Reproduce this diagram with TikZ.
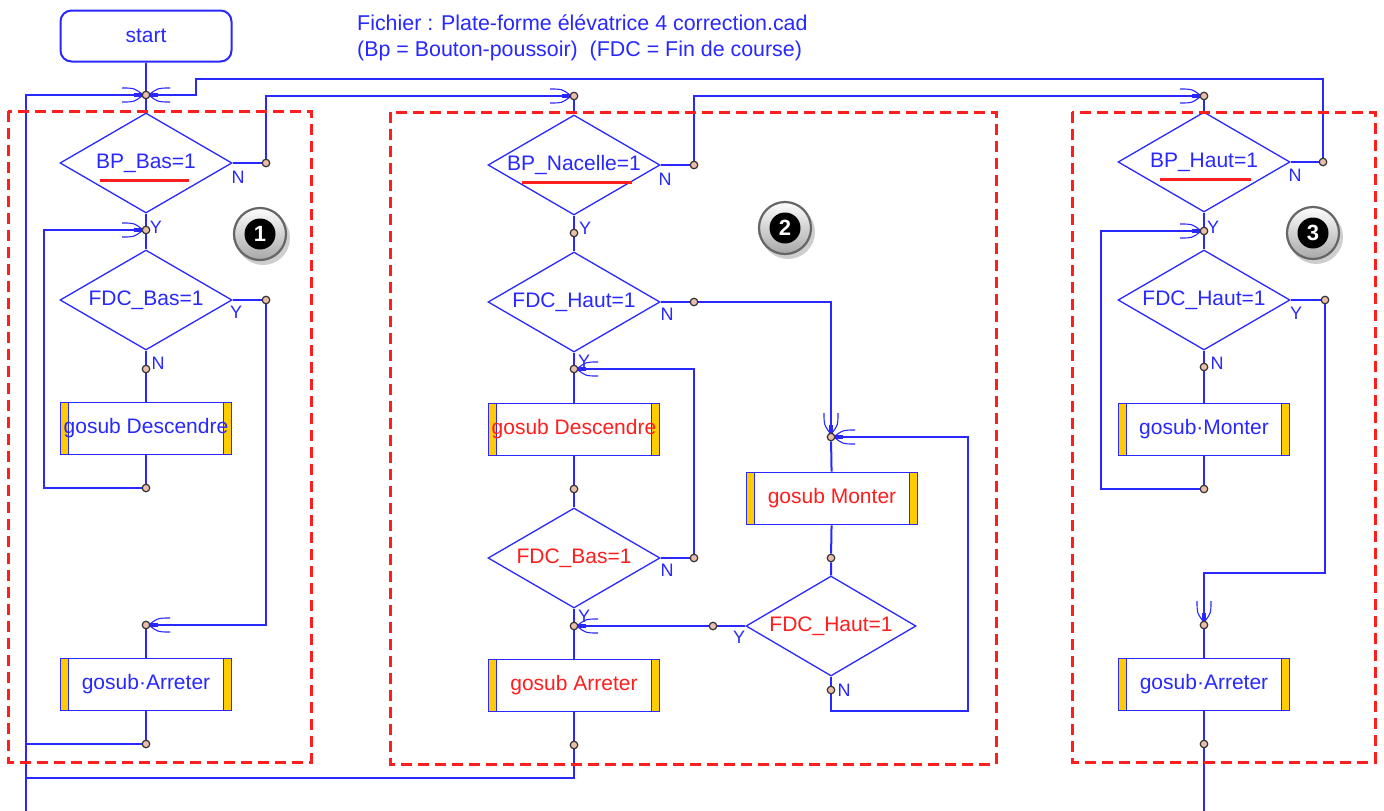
\documentclass[tikz,border=0pt]{standalone}
\usepackage{fontspec}
\setmainfont{Liberation Sans}
\usetikzlibrary{shapes.geometric,calc}
\definecolor{fblue}{RGB}{40,40,255}
\definecolor{fred}{RGB}{255,30,30}
\definecolor{fyellow}{RGB}{255,204,0}
\definecolor{dotfill}{RGB}{235,190,170}
\pgfdeclarelayer{bg}
\pgfsetlayers{bg,main}
\newcommand\mybadge[3]{%
  \fill[black!35,opacity=.55] (#1+3,#2+4) circle (27pt);
  \shade[top color=white,bottom color=black!35] (#1,#2) circle (27pt);
  \draw[black!60,line width=2.2pt] (#1,#2) circle (26pt);
  \node[circle,fill=black,text=white,minimum size=31pt,inner sep=0pt,
        font=\fontsize{22}{26}\selectfont\bfseries] at (#1,#2) {#3};
}
\tikzset{
  fork/.pic={
    \fill[fblue] (-12,-2.2) rectangle (-3,2.2);
    \draw[fblue,line width=1.1pt] (-3,0) -- (-24,0);
    \draw[fblue,line width=1.1pt] (-4,-1) .. controls (-12,-7) .. (-24,-7);
    \draw[fblue,line width=1.1pt] (-4,1) .. controls (-12,7) .. (-24,7);
  }
}
\begin{document}
\begin{tikzpicture}[x=1pt,y=-1pt,font=\fontsize{21}{25}\selectfont,
  conn/.style={draw=fblue,line width=2pt},
  jdot/.style={circle,draw=black!80,fill=dotfill,line width=1.2pt,minimum size=7.5pt,inner sep=0pt},
  dia/.style={shape=diamond,shape aspect=1.72,draw=fblue,line width=1.3pt,minimum width=172pt,minimum height=100pt,inner sep=0pt,text=fblue},
  proc/.style={draw=fblue,line width=1.6pt,fill=white,minimum width=171pt,minimum height=52pt,inner sep=0pt,text=fblue,
    path picture={
      \fill[fyellow] (path picture bounding box.north west) rectangle ([xshift=8pt]path picture bounding box.south west);
      \fill[fyellow] (path picture bounding box.north east) rectangle ([xshift=-8pt]path picture bounding box.south east);
      \draw[fblue,line width=1.6pt] ([xshift=8pt]path picture bounding box.north west) -- ([xshift=8pt]path picture bounding box.south west);
      \draw[fblue,line width=1.6pt] ([xshift=-8pt]path picture bounding box.north east) -- ([xshift=-8pt]path picture bounding box.south east);
    }},
  startbox/.style={draw=fblue,line width=2pt,rounded corners=11pt,minimum width=171pt,minimum height=51pt,inner sep=0pt,text=fblue},
  lbl/.style={text=fblue,font=\fontsize{18}{22}\selectfont,inner sep=0pt},
  zone/.style={draw=fred,line width=3pt,dash pattern=on 11pt off 6pt},
  uline/.style={draw=fred,line width=3pt}
]
\useasboundingbox (0,0) rectangle (1384,811);

% ---------- section 1 ----------
\node[startbox] (start) at (146,36) {start};
\node[jdot] (j0) at (146,95) {};
\node[dia] (d1) at (146,163) {BP\_Bas=1};
\node[jdot] (n1) at (266,163) {};
\node[jdot] (j1) at (146,230) {};
\node[dia] (d2) at (146,300) {FDC\_Bas=1};
\node[jdot] (y2) at (266,300) {};
\node[jdot] (n2) at (146,369) {};
\node[proc] (p1) at (146,428.5) {gosub Descendre};
\node[jdot] (e1) at (146,488) {};
\node[jdot] (j2) at (146,625) {};
\node[proc] (p2) at (146,684.5) {gosub·Arreter};
\node[jdot] (e2) at (146,744) {};

% ---------- section 2 ----------
\node[jdot] (j3) at (574,96) {};
\node[dia] (d3) at (574,165) {BP\_Nacelle=1};
\node[jdot] (n3) at (694,165) {};
\node[jdot] (y3) at (574,233) {};
\node[dia] (d4) at (574,302) {FDC\_Haut=1};
\node[jdot] (n4) at (694,302) {};
\node[jdot] (j4) at (574,369) {};
\node[proc,text=fred] (p3) at (574,429.5) {gosub Descendre};
\node[jdot] (e3) at (574,489) {};
\node[dia,text=fred] (d5) at (574,558) {FDC\_Bas=1};
\node[jdot] (n5) at (694,558) {};
\node[jdot] (j5) at (574,626) {};
\node[proc,text=fred] (p4) at (574,685.5) {gosub Arreter};
\node[jdot] (e4) at (574,745) {};
\node[jdot] (j6) at (831,437) {};
\node[proc,text=fred] (p5) at (832,498.5) {gosub Monter};
\node[jdot] (e5) at (831,558) {};
\node[dia,text=fred,minimum width=170pt] (d6) at (831,626) {FDC\_Haut=1};
\node[jdot] (y6) at (713,626) {};
\node[jdot] (n6) at (831,690) {};

% ---------- section 3 ----------
\node[jdot] (j7) at (1204,96) {};
\node[dia] (d7) at (1204,162) {BP\_Haut=1};
\node[jdot] (n7) at (1323,162) {};
\node[jdot] (j8) at (1204,231) {};
\node[dia] (d8) at (1204,300) {FDC\_Haut=1};
\node[jdot] (y8) at (1325,300) {};
\node[jdot] (n8) at (1204,367) {};
\node[proc] (p6) at (1204,429.5) {gosub·Monter};
\node[jdot] (e6) at (1204,489) {};
\node[jdot] (j9) at (1204,625) {};
\node[proc] (p7) at (1204,684.5) {gosub·Arreter};
\node[jdot] (e7) at (1204,744) {};

\coordinate (lb) at (26,811);
\coordinate (rb) at (1204,811);

% title
\node[anchor=west,text=fblue,inner sep=0pt,font=\fontsize{21.4}{25}\selectfont] (t1) at (357,23) {Fichier : Plate-forme élévatrice 4 correction.cad};
\node[anchor=west,text=fblue,inner sep=0pt,font=\fontsize{21.4}{25}\selectfont] (t2) at (357,51) {(Bp = Bouton-poussoir)\ \ (FDC = Fin de course)};

% labels
\node[lbl] at (238,177) {N};
\node[lbl] at (156,227) {Y};
\node[lbl] at (236,312) {Y};
\node[lbl] at (158,363) {N};
\node[lbl] at (665,179) {N};
\node[lbl] at (585,228) {Y};
\node[lbl] at (667,314) {N};
\node[lbl] at (584,361) {Y};
\node[lbl] at (667,570) {N};
\node[lbl] at (584,616) {Y};
\node[lbl] at (739,637) {Y};
\node[lbl] at (844,690) {N};
\node[lbl] at (1295,175) {N};
\node[lbl] at (1213,227) {Y};
\node[lbl] at (1296,313) {Y};
\node[lbl] at (1217,363) {N};

% underlines
\draw[uline] (100,180) -- (189,180);
\draw[uline] (522,182) -- (632,182);
\draw[uline] (1160,179) -- (1251,179);

% badges
\mybadge{260}{234}{1}
\mybadge{785}{228}{2}
\mybadge{1313}{233}{3}

% zones
\draw[zone] (8,111) rectangle (311,762);
\draw[zone] (390,112) rectangle (996,764);
\draw[zone] (1072,112) rectangle (1375,762);

\begin{pgfonlayer}{bg}
\fill[white] (0,0) rectangle (1384,811);
% section 1
\draw[conn] (start) -- (j0) -- (d1.north);
\draw[conn] (d1.east) -- (n1) |- (j3);
\draw[conn] (d1.south) -- (j1) -- (d2.north);
\draw[conn] (d2.east) -- (y2) |- (j2);
\draw[conn] (d2.south) -- (n2) -- (p1);
\draw[conn] (p1) -- (e1) -- (44,488) |- (j1);
\draw[conn] (j2) -- (p2);
\draw[conn] (p2) -- (e2) -- (e2 -| lb);
\draw[conn] (lb) |- (j0);
\draw[conn] (n7) -- (1323,79) -- (196,79) -- (196,95) -- (j0);
\draw[conn] (e4) -- (574,778) -- (26,778);
% section 2
\draw[conn] (j3) -- (d3.north);
\draw[conn] (d3.east) -- (n3) |- (j7);
\draw[conn] (d3.south) -- (y3) -- (d4.north);
\draw[conn] (d4.east) -- (n4) -| (j6);
\draw[conn] (d4.south) -- (j4) -- (p3);
\draw[conn] (p3) -- (e3) -- (d5.north);
\draw[conn] (d5.east) -- (n5) |- (j4);
\draw[conn] (d5.south) -- (j5) -- (p4);
\draw[conn] (p4) -- (e4);
\draw[conn] (j6) -- (p5);
\draw[conn] (p5) -- (e5) -- (d6.north);
\draw[conn] (d6.west) -- (y6) -- (j5);
\draw[conn] (d6.south) -- (n6) -- (831,711) -- (968,711) |- (j6);
% section 3
\draw[conn] (j7) -- (d7.north);
\draw[conn] (d7.east) -- (n7);
\draw[conn] (d7.south) -- (j8) -- (d8.north);
\draw[conn] (d8.east) -- (y8) -- (1325,573) -| (j9);
\draw[conn] (d8.south) -- (n8) -- (p6);
\draw[conn] (p6) -- (e6) -- (1101,489) |- (j8);
\draw[conn] (j9) -- (p7);
\draw[conn] (p7) -- (e7) -- (rb);
% arrow forks
\pic at (j0) {fork};
\pic[rotate=180] at (j0) {fork};
\pic at (j3) {fork};
\pic at (j1) {fork};
\pic[rotate=180] at (j2) {fork};
\pic at (j7) {fork};
\pic[rotate=180] at (j4) {fork};
\pic[rotate=180] at (j5) {fork};
\pic[rotate=-90] at (j6) {fork};
\pic[rotate=180] at (j6) {fork};
\pic at (j8) {fork};
\pic[rotate=-90] at (j9) {fork};
\end{pgfonlayer}
\end{tikzpicture}
\end{document}
